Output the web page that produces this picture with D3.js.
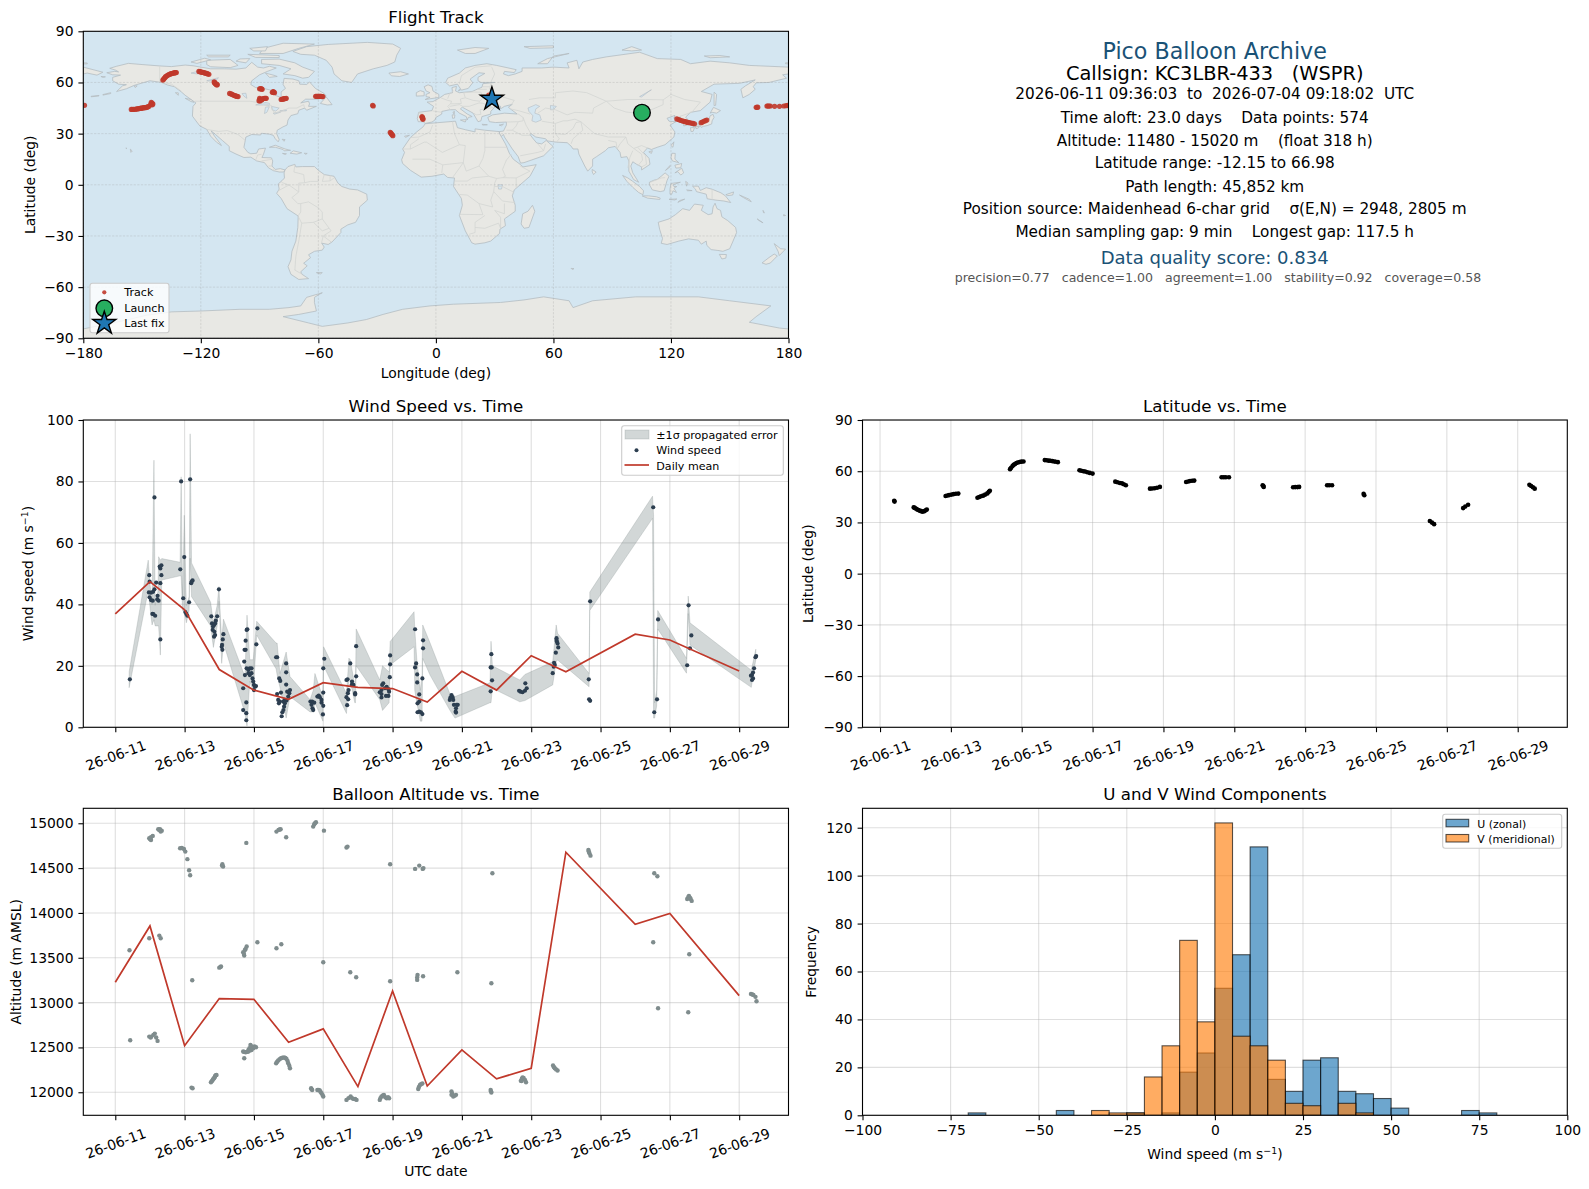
<!DOCTYPE html>
<html><head><meta charset="utf-8">
<script src="https://cdn.jsdelivr.net/npm/d3@7/dist/d3.min.js"></script>
<style>html,body{margin:0;padding:0;background:#fff}svg{display:block}text{font-family:"DejaVu Sans",sans-serif;fill:#000}</style>
</head><body><svg id="c" width="1589" height="1189" xmlns="http://www.w3.org/2000/svg"></svg>
<script>
// ---------- DATA ----------
const dateTicks=[0,2,4,6,8,10,12,14,16,18];
const dateLabels=["26-06-11","26-06-13","26-06-15","26-06-17","26-06-19","26-06-21","26-06-23","26-06-25","26-06-27","26-06-29"];
const lonTicks=[-180,-120,-60,0,60,120,180];
const lonLabels=["−180","−120","−60","0","60","120","180"];
const latTicks=[-90,-60,-30,0,30,60,90];
const latLabels=["−90","−60","−30","0","30","60","90"];
const windTicks=[0,20,40,60,80,100];
const altTicks=[12000,12500,13000,13500,14000,14500,15000];
const histXTicks=[-100,-75,-50,-25,0,25,50,75,100];
const histXLabels=["−100","−75","−50","−25","0","25","50","75","100"];
const histYTicks=[0,20,40,60,80,100,120];

const land=[
// North America
[[-168,65.7],[-164,66.5],[-162,66.2],[-163.5,67.2],[-166.5,68.3],[-163,69.5],[-157,71.2],[-150,70.5],[-141,69.7],[-135,69.3],[-128,70.2],[-124,69.8],[-115,68],[-108,68],[-102,67.8],[-97,68.5],[-94,71.8],[-91,69],[-88,68.5],[-85,69.5],[-81.5,68.5],[-86,66.5],[-90,64.5],[-94,61],[-94.5,58.8],[-92,57],[-88,56.5],[-82.5,55],[-82,52.5],[-79.5,51.3],[-79,52],[-79,54.5],[-76.8,56.5],[-78,58.8],[-77.5,62.4],[-73,62],[-70,61],[-69.5,59],[-66,58.8],[-64.5,60.3],[-61.5,56.5],[-57,53.5],[-56,52],[-60,50.2],[-66.5,50.2],[-69,48],[-65,49],[-64.5,47.5],[-65,46],[-61,46],[-66,43.7],[-67,45],[-70,43.7],[-70.5,41.7],[-74,40.6],[-75.5,38],[-76,35],[-78,34],[-81,32],[-81.3,30],[-80,26.5],[-80.5,25.2],[-82,27],[-83,29],[-85,29.7],[-89,30.2],[-89.5,29.2],[-94,29.5],[-97,28],[-97.5,25],[-98,22],[-96,19],[-94.5,18.2],[-91.5,18.5],[-90.5,21],[-87,21.5],[-88,18],[-88.8,16],[-84,15.8],[-83.3,14],[-83.7,11],[-82,9],[-79.5,9.5],[-77,8.7],[-77.7,7.5],[-80,7.5],[-83,8.3],[-85.5,10],[-87.5,13],[-91.5,14],[-94.5,16.2],[-98,16],[-102,18],[-105.5,20],[-105.5,22.5],[-109,26],[-112.5,29.5],[-114.8,31.7],[-113,28.5],[-110,24],[-109.5,23],[-112,25],[-115,28.5],[-117,32.5],[-120.5,34.5],[-122.5,37.5],[-124.3,40.3],[-124,46],[-122.5,48],[-125,50],[-128,52.5],[-130,54.5],[-133.5,57.5],[-137,58.5],[-140,60],[-146,61],[-149,60],[-152,59],[-154,58.3],[-158,56.3],[-163,54.7],[-160,58],[-158,58.7],[-162,59],[-165,61],[-165,63],[-161,64.3],[-165,64.5]],
// South America
[[-77,8.7],[-75.5,10.7],[-72,12],[-71.5,10.5],[-68,10.7],[-62,10.7],[-60,8.5],[-57,6],[-52,5],[-50,1],[-48,-1],[-44,-2.5],[-40,-3],[-35.3,-5.5],[-35,-9],[-39,-13],[-39,-18],[-41,-22],[-45,-23.5],[-48.5,-26],[-48.5,-28],[-53,-33.5],[-55,-35],[-58.3,-34.2],[-57,-36.5],[-58,-38.3],[-62,-39],[-65,-41],[-64,-42.7],[-67.5,-46],[-65.7,-47.5],[-69,-51],[-68.3,-52.5],[-65,-55],[-70,-55.5],[-74,-52.5],[-75.5,-48],[-74,-44],[-73.5,-39],[-71.5,-33],[-70.5,-25],[-70.3,-18.3],[-76,-14],[-79,-8],[-81.3,-5],[-80,-2.5],[-80.5,0.5],[-78.5,2.5],[-77.3,4],[-77.5,7]],
// Greenland
[[-73,78.2],[-66,81],[-55,82.3],[-35,83.5],[-22,82.5],[-18,80],[-20,76],[-21,72],[-25,70],[-32,68],[-40,65],[-43,60],[-48,61],[-52,65],[-53,69],[-56,73],[-62,76],[-69,76.5]],
// Eurasia
[[-9,37],[-9.5,38.8],[-8.8,42.5],[-2,43.5],[-1.2,46],[-4.5,48.5],[-1.5,48.8],[2,51],[4.5,53],[8.5,54],[8.2,57],[10.5,57.7],[10,55],[12,54],[18.5,54.7],[21,56],[23.5,57.2],[24,59.3],[30,60],[23,60],[21.5,61],[21.5,63],[25,65.3],[22,65.7],[17.5,62],[18.8,59.8],[16.5,56.5],[13,55.5],[11,59],[7,58],[5,60],[6,62.5],[12,65.5],[15,68.5],[20,70],[26,71],[31,70],[41,67.5],[40,65.8],[35,66.5],[34.5,65],[37,64],[40.5,65],[44,66.5],[44,68.5],[54,68.5],[60,69],[68,68.5],[67,71.5],[72,73],[73,68],[75,72],[80,73.5],[87,75],[104,77.7],[113,74],[125,73.5],[130,71],[140,72.5],[150,71.5],[160,70],[170,69.5],[180,69],[180,65],[177,64.5],[179,62.5],[170,60],[163.5,59.8],[162,57.5],[163,56],[160,53],[156.7,51],[155.7,56],[158,58],[163,61.5],[155,59.5],[142,59],[135.5,54.7],[141,53],[140,48.5],[135,43.5],[130,42.5],[127.5,39.7],[129.5,37],[129,35.2],[126.5,34.5],[126.5,37],[125,38],[125,39.7],[121.5,39],[122,40.7],[118,39],[119,37.3],[122.5,37],[119.5,35],[122,31],[121.5,28],[117,23.5],[113,22],[110,20.7],[108,21.6],[106,19],[108.8,15.5],[109.3,12],[105,8.7],[105,10.5],[102.5,12],[100.5,13.5],[99.5,11],[100.5,7],[103.5,1.5],[101,3],[98.5,8],[98.5,14],[97.5,16.5],[94.5,16],[94,19],[91.5,22.5],[88,21.7],[86.5,20],[82,16.5],[80,15],[80,11],[77.5,8],[76,11],[73,18],[72.5,21],[70,21],[69,22.7],[67,24.7],[61.5,25],[57,25.7],[56,27],[51,28],[48.5,30],[48,29.5],[50,26.5],[51.5,24.5],[54,24],[56.3,26],[59.8,22.5],[55,17],[45,13],[43.2,12.7],[42,16.5],[39,21],[35,28],[34.5,29.5],[33,28],[32.5,30],[32.3,31.2],[34.5,31.5],[36,35],[36,36.8],[30.5,36.5],[27.3,37],[26.5,39.5],[29,41],[35,42],[41.5,41.5],[38,44.5],[37,45.5],[39,47.2],[35,46],[33,44.5],[33,46],[30.7,46.5],[28,43],[28,41.5],[26,40.8],[23.5,40],[23,37.5],[21.5,37],[19.5,41],[19,42],[13.5,45.5],[12.5,44.5],[16,41.5],[18.5,40],[16.5,39.5],[16,38],[15.5,40],[12,42],[10,44],[7,44],[3,43],[3,41.5],[0,39.5],[-0.5,38],[-2,36.8],[-5.5,36],[-6.5,37]],
// Chukotka wrap
[[-180,69],[-175,67.5],[-170,66],[-173,64.3],[-178,65.5],[-180,65]],
// Africa
[[-5.5,35.8],[10,37.3],[11,33.5],[15,32.3],[20,31],[20,32.8],[25,32],[32.3,31.2],[32.5,30],[35.5,24],[37.5,18.5],[39.5,15],[43,12],[44.5,10.5],[51.2,11.8],[48,5],[40,-3],[39,-6.5],[40.5,-12],[40.5,-15.5],[35,-20],[35.5,-24],[32.7,-26],[32.5,-28.5],[28,-33],[25,-34],[20,-34.8],[18.3,-34],[15,-27],[12,-18],[13.5,-12],[13,-8],[9,-1],[9.5,4],[6,4.3],[4,6.3],[-2,5],[-7.5,4.5],[-13,8.5],[-17,12.5],[-17.5,14.7],[-16,19],[-17,21],[-13,27.7],[-9.8,31],[-6.5,34]],
// Australia and neighbours
[[113.5,-22],[114.2,-26],[115.7,-31.5],[115,-34.3],[118,-35],[124,-33],[129,-31.7],[134,-32.5],[135.5,-34.8],[138,-33],[138.3,-35.5],[140.5,-38],[144,-38.5],[146.5,-39],[150,-37.5],[151.5,-33.5],[153.5,-28],[153,-25],[149,-21],[146,-18.8],[145.3,-15],[143.5,-14],[142.5,-10.8],[141.5,-13],[141,-17],[139,-17.5],[135.5,-15],[136.5,-12],[132,-11.3],[129.5,-15],[126,-14],[122.3,-17.5],[119,-20]],
[[144.7,-40.8],[148.3,-40.9],[148,-43],[146,-43.5]],
[[172.7,-34.5],[176,-37.5],[178.5,-37.7],[175.3,-41.5],[174.7,-39]],
[[172.7,-40.6],[174.3,-41.7],[170.7,-45.9],[168.5,-46.6],[166.5,-45.8],[170,-42.7]],
[[131,-0.8],[134,-0.8],[135,-3.3],[138,-1.7],[141,-2.6],[145.5,-4.7],[147.8,-6.5],[150.5,-10.4],[147,-9.5],[143,-9],[138.5,-8.2],[138,-5.5],[133,-4],[132.5,-2.5]],
[[148,-5.8],[152,-4.2],[151.5,-6],[149,-6.3]],
[[155,-6],[157,-7.5],[161,-10],[160,-8.5]],
[[167,-15],[167.7,-16.5],[167.2,-16.3]],
[[164,-20],[167,-22.3],[165,-21]],
[[177.5,-17.5],[178.5,-18],[177.5,-18.2]],
// Canadian Arctic and North Atlantic
[[-80,73.7],[-72,71.5],[-68,69],[-62,66.5],[-65,63],[-68,62.5],[-72,64],[-78,65],[-74,68],[-80,70],[-89,71],[-89,73.5]],
[[-117,73],[-105,73.5],[-101,70],[-105,68.7],[-115,69.2],[-117,70.5]],
[[-125,72],[-118,74.2],[-115,73.3],[-122,71.2]],
[[-90,77],[-88,80],[-78,83],[-62,82.5],[-70,80],[-78,77]],
[[-96,76.5],[-80,75.8],[-80,74.6],[-92,74.7]],
[[-95,80],[-86,81],[-87,78.5],[-93,78.5]],
[[-117,76],[-105,76],[-106,75],[-116,75]],
[[-100,73.8],[-95,74],[-97,71.5],[-102,72.5]],
[[-87,65.5],[-82,64],[-81,63.5],[-85,63]],
[[-59,47.7],[-56,51.5],[-53,47],[-55.5,46.8]],
[[-128,50.7],[-125,50],[-123.5,48.4],[-125,48.8]],
[[-133,54],[-131.5,53.9],[-131.5,52.5]],
[[-154,58],[-152.5,58],[-153.5,57]],
[[-171,63.5],[-168.7,63.3],[-170,63]],
[[-170,52.9],[-166,54],[-166,53.5],[-170,52.6]],
[[-176,51.9],[-172,52.4],[-172,52.1],[-176,51.6]],
[[-156,20.9],[-155,19.8],[-155.7,19]],
[[-158.3,21.6],[-157.7,21.4],[-158,21.2]],
[[-85,22],[-82,23.2],[-77,21],[-74.2,20.2],[-77.5,19.9],[-78,20.7],[-82,22]],
[[-74.4,18.5],[-72.8,19.9],[-68.5,18.8],[-71,18]],
[[-78.3,18.4],[-76.3,18.2],[-77,17.8]],
[[-67.2,18.5],[-65.7,18.4],[-66.5,17.9]],
[[-78.5,26.7],[-77,26.5],[-77.5,25.5]],
[[-24,65.5],[-18,66.3],[-14,65],[-18.5,63.5],[-22.7,63.9]],
[[-61,-51.5],[-58,-51.5],[-59,-52.3]],
[[69,-49],[70.5,-49.2],[69.5,-49.6]],
// Arctic Eurasia
[[11,79],[20,80.5],[27,80],[20,77],[15,77]],
[[52,71],[57,74],[68,77],[60,75.5],[57,71]],
[[45,81],[60,81.5],[60,80.3],[48,80]],
[[95,79],[100,81],[105,79],[100,78.5]],
[[137,75.5],[145,75.8],[150,75],[140,74.5]],
[[178.5,71.5],[180,71.5],[180,70.9],[178.5,71]],
[[-180,71.5],[-178,71.4],[-178,70.9],[-180,70.9]],
// Europe islands
[[-5.5,50],[1.5,51.2],[1.5,53],[-1.5,55],[-2,57.7],[-4,58.6],[-6,57.5],[-5,55],[-3,54],[-5,53],[-5,51.7],[-3,51.3]],
[[-10,52],[-6,52.2],[-6,54.5],[-8,55.2],[-10,54]],
[[12.5,38],[15.5,38.2],[15,36.8]],
[[8.3,41],[9.7,41],[9.5,39.1],[8.5,39]],
[[8.7,42.6],[9.5,43],[9.3,41.4]],
[[23.5,35.5],[26.3,35.2],[24,35]],
[[32.3,35],[34.5,35.6],[33.5,34.6]],
[[12,56],[12.6,55.7],[11.5,55]],
[[-16,28.5],[-13.5,29],[-15.5,27.8]],
// East and South-East Asia islands
[[131,34],[133,35.5],[136,35.8],[137,37.3],[139.5,38.5],[140,40.5],[141.5,41.3],[142,39.5],[141,37.5],[140.8,35.7],[138.5,34.7],[136.5,34.3],[135.5,33.6],[135,34.6]],
[[130,33.5],[132,33.5],[131.3,31.3],[130.2,31.3]],
[[132.5,33.9],[134.5,34.2],[134,33.3],[132.8,32.9]],
[[140,42],[141.7,45.4],[145.3,43.5],[143.3,42],[141,42.5]],
[[142,54.3],[143.3,53],[143,49.5],[142.8,46.6],[142,46.5],[142,50]],
[[120,23],[121.5,25.2],[121,22]],
[[108.7,19.3],[110.5,20],[110,18.4]],
[[79.8,9],[81.8,7.5],[80.5,6],[79.8,7.5]],
[[120.5,18.5],[122.2,18.4],[122,15],[124,13],[120.7,14],[120,16]],
[[122,7],[125.5,9.7],[126.5,7],[125,5.7],[123.5,7.7]],
[[122,11.5],[125.5,12.5],[125,10],[122.5,9.8]],
[[117.2,8.4],[119.5,11.3],[119.5,10.5]],
[[109,1.5],[111.3,2.7],[113,3.2],[115,5],[117,7],[119,5],[118,2.5],[117.5,0.5],[116.5,-3.5],[114.5,-4],[110.5,-3],[109,0]],
[[95.3,5.5],[98,4],[100.5,2],[104,-1],[106,-3.5],[105.7,-5.8],[103.5,-4.5],[100.5,-1.5],[97.5,2]],
[[105.3,-6.5],[108.5,-6.5],[112.5,-7],[114.5,-7.8],[114.3,-8.6],[108,-7.8]],
[[119.5,-5.5],[119.5,-2.5],[120,0.8],[124.8,1.5],[121,0],[121.5,-1],[123,-1],[121.5,-2],[122.8,-4.5],[121,-3.5],[120.4,-5.5]],
[[123.5,-10.3],[127,-8.4],[124.5,-9.2]],
[[119,-8.5],[123,-8.3],[122,-8.9]],
[[127.5,2],[128.7,1],[128,-0.8]],
[[128,-3],[130.8,-3.4],[128.5,-3.5]],
// Madagascar and Antarctica
[[49.3,-12],[50.5,-15.5],[47.5,-25],[45,-25.5],[43.5,-23],[44.3,-17],[47,-15.5]],
[[-180,-90],[-180,-84.5],[-165,-81],[-155,-78.5],[-148,-76.5],[-135,-74.5],[-120,-74],[-100,-73],[-85,-73],[-75,-72],[-69,-71],[-66,-66],[-58,-63.3],[-60,-64.5],[-62,-66],[-62,-69],[-61,-74],[-70,-76],[-78,-77.3],[-65,-81],[-58,-83],[-45,-81],[-35.5,-79],[-27,-76],[-17,-73],[-3,-71],[9,-70],[33,-69],[45,-67.5],[55,-65.7],[68,-68],[70,-72],[80,-68],[102,-65.7],[134,-65.7],[150,-68],[171,-71],[163.5,-77.3],[160,-80.6],[175.4,-84],[180,-84.5],[180,-90]]
];
const lakes=[
[[47,45],[51,47],[53,46],[51,44.5],[50.5,42],[53,41],[53.8,38],[51,36.7],[49,37.5],[49.5,40.5],[47.5,43]],
[[58.5,46.5],[61.5,46],[60,44],[58.5,44]],
[[-92,46.8],[-88,48.5],[-85,47.8],[-85,46.6],[-88,46.8]],
[[-87.5,41.8],[-87,45.5],[-85,45.8],[-86.3,42.5]],
[[-84,46],[-80,45],[-81.7,43.2],[-83.5,43.8]],
[[-83,42],[-79,42.9],[-79.5,42.5],[-82.5,41.4]],
[[-79.7,43.3],[-76.3,44],[-76.3,43.4],[-79,43.2]],
[[-125,65.5],[-120,67],[-118,66],[-122,65]],
[[-117,61],[-111,62.8],[-112,61.5],[-116,60.8]],
[[-99,53.5],[-97,53.7],[-96.5,50.7],[-98,52]],
[[104,51.7],[110,55.7],[109,55],[105,51.5]],
[[31.7,0],[34,0],[33.5,-2.5],[32,-2.5]]
];
const borders=[
[[-123,49],[-95,49],[-89,48],[-84,46.5],[-82.5,42],[-79,43],[-75,45],[-71,45],[-67.5,47],[-67,45]],
[[-141,69.7],[-141,60.3],[-135,59],[-130,55]],
[[-117,32.5],[-111,31.3],[-106.5,31.8],[-101,29.5],[-97.3,26]],
[[-92,14.5],[-91,17.5],[-89,17.9]],[[-89,14],[-83.3,15]],[[-85.5,11],[-83.7,11]],[[-83,8.5],[-82.5,9.5]],
[[-72,11.8],[-72.5,7.5],[-67.5,6],[-67,1.2]],
[[-78.8,1.4],[-75,-0.1],[-70,-4.2],[-70,1],[-67,1.2]],
[[-60,5],[-60,2],[-64,2],[-67,1.2]],
[[-70,-4.2],[-73.5,-7.5],[-70.5,-11],[-69,-11],[-65,-10],[-60,-13.5],[-58,-16],[-58,-20],[-54.5,-25.5],[-53.5,-27],[-57.5,-30],[-53.5,-33.5]],
[[-80.3,-3.4],[-75,-0.1]],[[-70.4,-18.3],[-69,-16],[-69,-11]],
[[-70.4,-18.3],[-68.5,-22.5],[-70,-33],[-71.5,-42],[-72,-50],[-68.5,-52.3]],
[[-68.5,-22.5],[-62.5,-22],[-58,-20]],[[-62.5,-22],[-58,-27],[-54.5,-25.5]],[[-58.4,-34],[-57.5,-30]],
[[-57,6],[-58,2],[-54,2.3],[-54,5.7]],[[-52,4],[-54,2.3]],
[[-1.7,35],[-3,31],[-8.7,28],[-13,27.7]],[[8.5,37],[9.5,30],[12,23.5]],[[25,32],[25,20]],[[25,22],[36.9,22]],
[[25,20],[24,15.5],[22,11],[27,5],[31,3.7],[34,4.2],[35.5,5],[34,9],[36,14.5],[38.5,18]],
[[-4.8,25],[3.3,19],[12,23.5],[15,23],[14,13],[3.5,11.7],[-3,15],[-12,15]],
[[-17,21],[-13,21],[-13,23.5],[-8.7,27]],[[-13,21],[-6,25],[-4.8,25]],[[3,7],[3.5,11.7]],[[14,13],[9,5],[8.7,4.5]],
[[14,13],[15.5,8],[22,11]],[[9.8,2.2],[16,2.2],[18.5,4],[27,5]],
[[12,-5.7],[16,-6],[22,-11],[29,-13],[28,-9],[29.5,-4],[30,1],[31,3.7]],
[[41,4],[48,8],[43,11]],[[34,4.2],[41,4],[41,-1.7]],[[34,-1],[40,-4.5]],[[30,-1],[34,-1]],
[[29.5,-4],[34,-9.5],[40.5,-10.5]],[[12,-17.3],[24,-17.5],[22,-11]],[[17,-29],[20,-28],[20,-22],[25,-18]],
[[20,-25],[25,-25.5],[32,-22.5],[33,-25.5]],[[33,-25.5],[33,-19],[30,-15],[35,-17],[35,-11]],
[[-9,42],[-7,42],[-7,37.2]],
[[-1.7,43.3],[3,42.5]],[[2.5,51],[6,49.5],[8,49],[7.5,47.5],[6,46],[7.5,44]],
[[9,55],[7,53.5],[6,50.5]],[[14.2,54],[15,51],[12.5,50.3],[13,47.7],[9.6,47.5],[7.5,47.5]],[[7,46],[12,47],[13.7,46]],
[[14.2,54],[19,54.4],[23,54.3],[24,51],[22.5,49],[19,49.5],[15,51]],
[[13.7,46],[17,46],[22,48],[24,47.8],[29,45.3],[22.5,44],[23,41.3],[20.5,41],[19.5,42]],
[[28,59.5],[27.5,56],[31,52.5],[40,49.5],[38.5,47]],[[24,51],[31,52.5]],[[24,57.5],[27.5,57.5]],[[21,56],[26,56]],
[[28,60],[30,65],[28.5,69]],[[12,59],[13,64],[20,69],[28.5,69.8]],
[[47.5,50],[53,51],[61,51],[61,54],[70,55],[77,54],[87,49]],
[[87,49],[98,50],[107,50],[116,49.8],[120,53],[127,50],[135,48.5],[131,43],[130.7,42.5]],
[[87,49],[91,45],[97,42.7],[105,41.7],[112,45],[116,47],[116,49.8]],
[[52,42],[56,45],[61,44],[67,41],[71,42.5],[80,42],[80.5,45],[87,49]],
[[54,37.3],[61,36],[65,37.5],[67,37.5],[71,38.5],[74,37]],[[61,36],[61,30],[63,27],[61.5,25]],
[[61,30],[66,29.5],[70,33],[71.5,36.5],[74,37]],[[74,37],[75,32],[70,27],[69,24]],
[[74,37],[79,32],[81,30],[88,28],[97,28]],[[97,28],[98,24],[101,21.3],[105,23],[108,21.6]],
[[92.5,21],[94,24],[97,28]],[[88,26],[92,25],[92.5,21]],[[98,10],[99,16],[100.5,20]],
[[101,21.3],[105,18],[105.5,14.5],[103,11]],[[103,22],[107,17],[107.5,12],[105,10.5]],
[[44.5,39.5],[46,35],[48.5,30]],[[36,36.8],[42,37],[44.5,37.5],[44.5,39.5],[42,41.5]],
[[42,37],[41,34.5],[39,32],[36,32]],[[39,32],[44,29],[48,29]],[[43,17],[52,19],[55,20],[52,24]],[[55,20],[56,24]],
[[48,41.5],[42,43.5],[38,44.5]],[[124.3,40],[128,41.5],[130.7,42.5]],[[126,38],[128.5,38.5]],
[[141,-2.6],[141,-9]],[[109.5,1.5],[115,4],[117,4.2]]
];

const trackLon=[-179.4,179.6,-155.5,-154.9,-154.3,-153.6,-153,-152.5,-152,-151.5,-151,-150.5,-150,-149.5,-149,-148.5,-148,-147.5,-147,-146.5,-145.3,-144.5,-145,-145.6,-144.8,-139.4,-139,-138.7,-138.3,-138,-137.5,-137,-136.5,-136,-135.5,-135,-134.5,-134,-133.6,-133.3,-132.9,-132.5,-121,-120.5,-120,-119.5,-119,-118.5,-118,-117.5,-117,-116.5,-115.9,-113,-112.8,-112.5,-112.2,-112,-111.8,-113.2,-111.6,-105.3,-104.6,-104,-103.4,-102.8,-102.4,-102,-101.5,-101,-90,-89.5,-89,-88.7,-83.2,-83,-82.8,-82.4,-83.5,-90,-89.6,-89.2,-88.8,-88.4,-88,-87.5,-87,-86.6,-90.3,-89.8,-79,-78.5,-78,-77.6,-77.3,-76.8,-76.4,-61.4,-60.9,-60.4,-59.9,-59.4,-59,-58.5,-58.1,-57.7,-32,-32.3,-23.3,-23,-22.7,-22.3,-22,-7.1,-7,-6.8,-6.7,-6.6,27,123,123.8,124.5,125.2,126,126.6,127.3,128,128.6,129.4,130.3,131.2,132,135.4,136,136.8,137.6,138.3,163.5,163.9,164.3,169,169.5,170,170.7,172.9,175.4,177.6,178.8];
const trackLat=[46.6,46.6,44.2,44.2,44.2,44.3,44.4,44.5,44.6,44.7,44.8,44.9,45,45.1,45.2,45.3,45.3,45.5,45.7,46,48.3,47.4,47.9,47.1,46.9,61.4,61.9,62.4,62.9,63.4,63.8,64.2,64.5,64.8,65,65.2,65.4,65.5,65.6,65.7,65.8,65.8,66.5,66.3,66.2,66,65.9,65.8,65.6,65.4,65.3,65,64.8,60,59.6,59.3,58.9,59,58.5,60.3,58.8,53.6,53.3,53,52.6,52.3,52.2,52,51.8,51.7,56.3,56.4,56.2,56,54.4,54.6,54.2,54,54.2,50.7,50.2,49.7,50,50.4,50.6,50.7,50.7,50.7,49.3,49.2,50,50.2,50.3,50.4,50.5,50.6,50.7,51.9,51.9,51.9,51.9,51.9,51.8,51.8,51.7,51.7,46.2,46.6,30.8,30.3,29.8,29.3,28.8,40,39.6,39.2,38.8,38.4,52.6,38.6,38.3,38,37.7,37.4,37.2,37,36.8,36.6,36.4,36.2,36,35.8,36.4,36.8,37.2,37.6,38,45.4,45.4,45.5,46.2,46.2,46.2,46.2,46,46,46.2,46.4];
const launchPoint=[105.2,42.3];
const lastFixPoint=[28.6,50.3];

const windPoints=[[.42,15.6],[.98,49.5],[.99,47.4],[.97,43.9],[1.03,43.8],[1.09,44.1],[1.13,44.9],[1.18,47.1],[1.30,46.9],[.99,42.3],[1.03,41.4],[1.08,41.2],[1.22,42.8],[1.21,41.6],[1.25,41.2],[1.07,36.9],[1.10,36.8],[1.15,36.3],[1.30,28.6],[1.13,74.8],[1.33,49.5],[1.28,52.3],[1.33,52.7],[1.30,51.7],[1.875,51.4],[1.90,80],[1.96,42],[1.99,55.4],[2.02,37.5],[2.05,36.9],[2.08,36.3],[2.13,40.7],[2.16,80.7],[2.19,46.9],[2.21,47.5],[2.23,47.8],[2.77,36.1],[2.94,36.1],[2.99,44.9],[2.79,33.8],[2.82,32.8],[2.85,33.3],[2.88,33.8],[2.90,34.7],[2.81,31.7],[2.86,31.1],[2.88,30],[2.85,29.5],[3.12,30.3],[3.10,28.6],[3.08,26.8],[3.07,26.2],[3.09,25.2],[3.79,31.7],[3.81,31.9],[3.76,28.2],[3.73,25.2],[3.76,25.2],[3.72,21.4],[3.69,12.7],[3.69,5.6],[3.78,8.1],[3.78,4.6],[3.78,2.3],[3.79,19.2],[3.84,18.7],[3.88,19.2],[3.93,19.2],[3.74,17],[3.84,17.6],[3.88,17],[3.93,17.6],[3.96,15.9],[3.98,14.9],[4,13.8],[4.03,13.2],[4.06,13.4],[4,12.1],[4.10,32.2],[4.07,27],[4.64,22.8],[4.67,22.8],[4.73,15.9],[4.76,15.1],[4.93,20.8],[4.93,17.9],[4.93,13.9],[4.67,10.8],[4.78,11.3],[4.70,8.9],[4.75,8.4],[4.85,8.4],[4.89,8.9],[4.94,8.7],[4.99,10],[5.02,11.1],[5.04,12.1],[4.96,11.6],[4.72,7.8],[4.87,6.7],[4.85,5.6],[4.82,4.9],[4.80,3.6],[4.89,7.8],[5.63,8.4],[5.68,8.4],[5.74,8],[5.66,7.3],[5.69,6.2],[5.71,5.6],[5.83,10],[5.87,10.3],[5.90,9.8],[5.95,8.9],[5.95,8],[6,7],[6,11.3],[5.99,4.2],[6.03,22.3],[6,19.2],[6.67,15.4],[6.70,15.6],[6.78,20.8],[6.83,14.9],[6.87,13.8],[6.82,13.8],[6.73,12.1],[6.71,11.1],[6.67,9.8],[6.72,9.1],[6.69,7.2],[6.92,11.1],[6.92,10.7],[6.95,16.6],[6.95,26.4],[7.68,12.1],[7.68,10.8],[7.68,9.7],[7.63,11.4],[7.73,14.3],[7.70,13.8],[7.78,12.7],[7.83,13.2],[7.88,12.4],[7.90,11.6],[7.88,10.2],[7.81,10.2],[7.92,16.3],[7.93,20.5],[7.93,23.4],[8.65,31.9],[8.68,20.8],[8.65,19.5],[8.71,17.2],[8.71,14.6],[8.77,10.7],[8.86,15.9],[8.88,28.3],[8.88,25.7],[8.77,8.4],[8.72,7.8],[8.77,5.1],[8.82,4.9],[8.86,4.3],[8.72,4.9],[9.65,8.9],[9.70,10.5],[9.73,9.8],[9.75,8.9],[9.67,9.7],[9.77,7.3],[9.85,7.3],[9.88,7.3],[9.83,6.2],[9.82,5.1],[9.83,4.8],[10.83,19.5],[10.86,19.5],[10.85,23.8],[10.87,15.3],[10.83,11.7],[11.65,11.9],[11.69,11.6],[11.75,11.4],[11.82,11.9],[11.87,12.7],[11.83,14.3],[12.62,17.6],[12.65,19.7],[12.68,20.3],[12.66,21],[12.71,24.3],[12.78,26],[12.74,27.9],[12.73,29],[12.73,28.4],[12.76,27.3],[13.70,41],[13.66,15.6],[13.67,9.1],[13.70,8.6],[15.52,71.6],[15.55,4.9],[15.63,9.1],[15.66,35.1],[16.50,20.2],[16.54,39.7],[16.58,25.7],[16.62,29.9],[18.34,16.8],[18.37,17],[18.37,15.4],[18.40,15.9],[18.40,17.8],[18.43,19.2],[18.47,22.8],[18.49,23.2]];
const bandDays=[.40,.95,1.0,1.06,1.115,1.15,1.23,1.25,1.30,1.34,1.87,1.90,1.94,1.99,2.05,2.13,2.16,2.2,2.75,2.83,2.94,2.99,3.07,3.12,3.74,3.80,3.88,3.98,4.08,4.64,4.67,4.75,4.93,5.04,5.62,5.71,5.76,5.95,5.99,6.01,6.67,6.74,6.78,6.91,6.93,6.95,7.63,7.71,7.9,7.93,8.62,8.64,8.7,8.8,8.85,8.87,9.08,9.65,9.8,10.81,10.84,10.88,11.67,11.82,12.62,12.72,12.76,13.67,13.69,15.5,15.53,15.56,15.62,15.65,16.48,16.53,16.58,18.35,18.48];
const bandHigh=[18.1,54.4,46.9,40,86.9,39.7,44.2,55.5,54.4,54.9,53.7,81.5,42.5,69,39.6,42.5,95.5,53.5,40.7,34,39.7,45.8,27.9,35.2,16.5,36.5,22,22,34.5,27.4,27.4,17.5,24.5,16.5,9,12,17.5,11,12,26.2,11,22.5,22,13.5,13.5,32,15.4,20,18,27.9,37.6,32,22,12,17,33.3,27.5,11,10,14.5,28,20,15.4,17.2,21.3,33.3,30.6,17.5,44,75.2,69,8,12,38,22.4,42.7,34,18.6,25.4];
const bandLow=[12.9,44.5,39.3,33.3,35,33,33,33,23.5,47.9,49.3,49.3,38,38,34,38,55,42.5,33,26,33,41,20.8,27.5,4.6,.4,15,11.8,30,19,17,13,3,10,5,5,8,3,2,20,4.5,16,15,8,8,20,9,5.5,8,20.3,26.2,12,8,2,2,22.4,17,5.6,3,8,8,12.7,8.3,8.7,13.8,21.3,21.9,13.2,38,68,3,3,7,32,17.6,37,26.8,13,22];
const dailyDays=[0,1,2,3,4,5,6,7,8,9,10,11,12,13,15,16,18];
const dailyWind=[36.9,47.4,38.2,18.8,12.1,9.1,14.5,13,12.6,8.2,18.2,12.1,23.3,18.1,30.3,28.4,18.3];
const dailyAlt=[13227,13855,12520,13045,13037,12558,12707,12063,13130,12070,12472,12149,12268,14677,13874,13993,13078];

const latPoints=[[.40,42.7],[.41,42.2],[.95,38.8],[.98,38.5],[1.02,38],[1.05,37.6],[1.08,37.3],[1.12,36.9],[1.16,36.6],[1.2,36.3],[1.25,36.6],[1.29,37.1],[1.32,37.6],[1.85,45.5],[1.9,45.8],[1.95,46],[2.02,46.3],[2.08,46.6],[2.14,46.8],[2.21,46.9],[2.75,44.5],[2.8,44.9],[2.85,45.3],[2.91,45.7],[2.97,46.3],[3.03,47],[3.07,47.9],[3.1,48.6],[3.67,61.2],[3.7,62],[3.74,63],[3.77,63.7],[3.81,64.2],[3.85,64.8],[3.89,65.1],[3.94,65.4],[3.99,65.6],[4.05,65.7],[4.65,66.5],[4.7,66.4],[4.76,66.2],[4.81,66.1],[4.87,65.9],[4.94,65.6],[5.02,65.3],[5.63,60.6],[5.68,60.3],[5.74,60],[5.79,59.8],[5.85,59.4],[5.92,59],[6,58.6],[6.64,53.9],[6.7,53.5],[6.77,53.1],[6.83,52.9],[6.88,52.4],[6.94,51.8],[7.62,49.8],[7.68,49.9],[7.75,50],[7.82,50.3],[7.9,50.8],[8.64,53.7],[8.7,54],[8.75,54.3],[8.81,54.4],[8.87,54.5],[9.64,56.5],[9.7,56.5],[9.76,56.5],[9.85,56.5],[10.8,51.8],[10.82,51.3],[10.83,50.8],[11.66,50.6],[11.72,50.7],[11.78,50.7],[11.83,50.8],[12.62,51.8],[12.68,51.8],[12.76,51.8],[13.65,46.7],[13.67,45.9],[15.52,30.8],[15.58,29.9],[15.64,29],[16.46,38.4],[16.52,39.3],[16.6,40.4],[18.33,52],[18.38,51.3],[18.43,50.6],[18.48,49.8]];

const altPoints=[[.41,13584],[.43,12580],[.98,14833],[1.03,14844],[1.08,14859],[1.03,14814],[1.0,14825],[1.24,14933],[1.29,14933],[1.34,14918],[1.31,14907],[1.27,14925],[.98,13718],[1.27,13747],[1.31,13718],[.98,12621],[1.04,12621],[1.02,12610],[1.1,12640],[1.14,12654],[1.18,12610],[1.22,12573],[1.87,14721],[1.92,14725],[1.98,14714],[2.02,14684],[2.08,14600],[2.13,14476],[2.16,14420],[2.22,13249],[2.2,12052],[2.23,12045],[2.76,12112],[2.79,12125],[2.81,12138],[2.83,12150],[2.85,12156],[2.87,12170],[2.88,12182],[2.9,12190],[2.92,12193],[3.09,14543],[3.11,14517],[3.08,14528],[3,13390],[3.05,13402],[3.03,13396],[3.78,14781],[3.69,12454],[3.72,12450],[3.76,12446],[3.8,12450],[3.84,12454],[3.87,12490],[3.9,12528],[3.94,12510],[3.98,12491],[4.02,12510],[4.06,12502],[3.93,12472],[3.84,12472],[3.88,12465],[3.72,12380],[3.72,13524],[3.74,13587],[3.79,13625],[3.76,13599],[3.69,13561],[3.71,13545],[4.1,13673],[4.64,12324],[4.67,12340],[4.7,12354],[4.74,12368],[4.78,12380],[4.82,12385],[4.87,12387],[4.91,12382],[4.94,12372],[4.97,12350],[4.99,12324],[5.02,12295],[5.04,12268],[4.65,13606],[4.79,13651],[4.65,14907],[4.71,14926],[4.74,14930],[4.77,14933],[4.93,14844],[5.71,14963],[5.74,14989],[5.79,15011],[5.76,15000],[6.02,14918],[6,13450],[5.65,12045],[5.66,12035],[5.68,12026],[5.83,12026],[5.87,12025],[5.9,12019],[5.92,12005],[5.95,11989],[5.98,11970],[6,11952],[6.67,14729],[6.7,14740],[6.78,13339],[6.95,13283],[6.67,11915],[6.73,11935],[6.79,11952],[6.83,11935],[6.87,11926],[6.92,11925],[6.96,11915],[7.93,14543],[7.93,13238],[7.63,11915],[7.65,11935],[7.68,11952],[7.72,11965],[7.75,11971],[7.79,11945],[7.83,11933],[7.9,11933],[7.87,11945],[8.65,14491],[8.77,14528],[8.87,14491],[8.89,14500],[8.72,13309],[8.71,13253],[8.71,13280],[8.88,13294],[8.74,12037],[8.76,12060],[8.79,12082],[8.82,12090],[8.86,12097],[9.87,13338],[9.7,12008],[9.72,11985],[9.75,11952],[9.79,11960],[9.83,11971],[9.7,11971],[10.88,14442],[10.85,13216],[10.83,12026],[10.85,11996],[10.84,12010],[11.7,12127],[11.73,12150],[11.75,12164],[11.78,12160],[11.82,12138],[11.85,12112],[11.72,12125],[12.63,12298],[12.66,12280],[12.68,12268],[12.72,12255],[12.76,12242],[13.65,14703],[13.68,14665],[13.66,14685],[13.71,14639],[15.55,14442],[15.64,14409],[15.52,13673],[15.66,12937],[16.53,12892],[16.56,13539],[16.5,14156],[16.53,14175],[16.55,14190],[16.58,14170],[16.6,14156],[16.63,14134],[18.34,13097],[18.38,13090],[18.41,13086],[18.47,13064],[18.5,13015]];

const binEdges=[-100,-95,-90,-85,-80,-75,-70,-65,-60,-55,-50,-45,-40,-35,-30,-25,-20,-15,-10,-5,0,5,10,15,20,25,30,35,40,45,50,55,60,65,70,75,80,85,90,95];
const uCounts=[0,0,0,0,0,0,1,0,0,0,0,2,0,0,0,1,0,1,18,26,53,67,112,15,10,23,24,10,9,7,3,0,0,0,2,1,0,0,0,0];
const vCounts=[0,0,0,0,0,0,0,0,0,0,0,0,0,2,1,1,16,29,73,39,122,33,29,23,5,4,0,5,1,0,0,0,0,0,0,0,0,0,0,0];

const infoLines=[
 ["Pico Balloon Archive",50.7,22.2,"#1a5276",1214.7],
 ["Callsign: KC3LBR-433   (WSPR)",73,19.4,"#000",1214.7],
 ["2026-06-11 09:36:03  to  2026-07-04 09:18:02  UTC",94.2,15.28,"#000",1214.7],
 ["Time aloft: 23.0 days    Data points: 574",117.6,15.28,"#000",1214.7],
 ["Altitude: 11480 - 15020 m    (float 318 h)",140.9,15.28,"#000",1214.7],
 ["Latitude range: -12.15 to 66.98",163.2,15.28,"#000",1214.7],
 ["Path length: 45,852 km",186.5,15.28,"#000",1214.7],
 ["Position source: Maidenhead 6-char grid    σ(E,N) = 2948, 2805 m",208.8,15.28,"#000",1214.7],
 ["Median sampling gap: 9 min    Longest gap: 117.5 h",232,15.28,"#000",1214.7],
 ["Data quality score: 0.834",257.4,18.05,"#1a5276",1214.7],
 ["precision=0.77   cadence=1.00   agreement=1.00   stability=0.92   coverage=0.58",277.7,12.55,"#555",1218]
];

// ---------- LAYOUT ----------
const L={x0:83.3,x1:788.5},R={x0:862.5,x1:1567.3};
const R1={y0:31.3,y1:338.3},R2={y0:420,y1:727.3},R3={y0:808.3,y1:1115.3};
const svg=d3.select("#c");
const RED="#c0392b",NAVY="#2c3e50",GREY="#7f8c8d";
let clipN=0;
function panel(col,row,xs,ys,o){
  const g=svg.append("g");
  const id="clip"+(clipN++);
  g.append("clipPath").attr("id",id).append("rect").attr("x",col.x0).attr("y",row.y0).attr("width",col.x1-col.x0).attr("height",row.y1-row.y0);
  const bg=g.append("g").attr("clip-path",`url(#${id})`);
  if(o.back)o.back(bg);
  const grid=g.append("g").attr("clip-path",`url(#${id})`);
  grid.selectAll("line.gx").data(o.xTicks).join("line").attr("x1",d=>xs(d)).attr("x2",d=>xs(d)).attr("y1",row.y0).attr("y2",row.y1);
  grid.selectAll("line.gy").data(o.yTicks).join("line").attr("x1",col.x0).attr("x2",col.x1).attr("y1",d=>ys(d)).attr("y2",d=>ys(d));
  if(o.mapGrid)grid.selectAll("line").attr("stroke","#9a9a9a").attr("stroke-opacity",.38).attr("stroke-width",.7).attr("stroke-dasharray","2.2,1.4");
  else grid.selectAll("line").attr("stroke","#b0b0b0").attr("stroke-opacity",.4).attr("stroke-width",1.1);
  const marks=g.append("g").attr("clip-path",`url(#${id})`);
  o.draw(marks);
  g.append("rect").attr("x",col.x0).attr("y",row.y0).attr("width",col.x1-col.x0).attr("height",row.y1-row.y0).attr("fill","none").attr("stroke","#000").attr("stroke-width",1.1);
  const ax=g.append("g").attr("transform",`translate(0,${row.y1})`).call(d3.axisBottom(xs).tickValues(o.xTicks).tickSize(4.9).tickPadding(4.9).tickFormat((d,i)=>o.xLabels?o.xLabels[i]:d));
  const ay=g.append("g").attr("transform",`translate(${col.x0},0)`).call(d3.axisLeft(ys).tickValues(o.yTicks).tickSize(4.9).tickPadding(4.9).tickFormat((d,i)=>o.yLabels?o.yLabels[i]:d));
  [ax,ay].forEach(a=>{a.select(".domain").remove();a.selectAll("line").attr("stroke","#000").attr("stroke-width",1.1);a.selectAll("text").style("font-family",'"DejaVu Sans"').style("font-size","13.89px").attr("fill","#000");});
  if(o.rotate)ax.selectAll("text").attr("dy",null).attr("y",null).attr("dominant-baseline","central").attr("text-anchor","middle").attr("transform","translate(0,28) rotate(-20)");
  g.append("text").attr("x",(col.x0+col.x1)/2).attr("y",row.y0-7.9).attr("text-anchor","middle").style("font-size","16.67px").text(o.title);
  if(o.yLabel){const t=g.append("text").attr("transform",`translate(${o.yLabelX},${(row.y0+row.y1)/2}) rotate(-90)`).attr("text-anchor","middle").style("font-size","13.89px");unit(t,o.yLabel);}
  if(o.xLabel){const t=g.append("text").attr("x",(col.x0+col.x1)/2).attr("y",o.xLabelY).attr("text-anchor","middle").style("font-size","13.89px");unit(t,o.xLabel);}
  return g;
}
function unit(t,s){
  const m=s.match(/^(.*m s)\^-1(\).*)$/);
  if(!m){t.text(s);return;}
  t.append("tspan").text(m[1]);
  t.append("tspan").attr("dy",-5).style("font-size","9.4px").text("−1");
  t.append("tspan").attr("dy",5).text(m[2]);
}
function legendBox(g,x,y,w,h){
  g.append("rect").attr("x",x).attr("y",y).attr("width",w).attr("height",h).attr("rx",2.5).attr("fill","#fff").attr("fill-opacity",.8).attr("stroke","#ccc").attr("stroke-width",1.1);
}
function legendText(g,x,y,s,fs){g.append("text").attr("x",x).attr("y",y).attr("dominant-baseline","central").style("font-size",fs+"px").attr("fill","#000").text(s);}
const star=d3.symbol().type(d3.symbolStar);

// ---------- MAP ----------
const lonX=d3.scaleLinear().domain([-180,180]).range([L.x0,L.x1]);
const latY=d3.scaleLinear().domain([-90,90]).range([R1.y1,R1.y0]);
const mapLine=d3.line().x(d=>lonX(d[0])).y(d=>latY(d[1]));
const p1=panel(L,R1,lonX,latY,{
  title:"Flight Track",xTicks:lonTicks,xLabels:lonLabels,yTicks:latTicks,yLabels:latLabels,mapGrid:true,
  yLabel:"Latitude (deg)",yLabelX:34.5,xLabel:"Longitude (deg)",xLabelY:378,
  back(g){
    g.append("rect").attr("x",L.x0).attr("y",R1.y0).attr("width",L.x1-L.x0).attr("height",R1.y1-R1.y0).attr("fill","#d4e6f1");
    g.selectAll("path.land").data(land).join("path").attr("d",d=>mapLine(d)+"Z").attr("fill","#e8e8e4").attr("stroke","#b4bcc2").attr("stroke-width",.8).attr("stroke-linejoin","round");
    g.selectAll("path.lake").data(lakes).join("path").attr("d",d=>mapLine(d)+"Z").attr("fill","#d4e6f1").attr("stroke","#b4bcc2").attr("stroke-width",.6);
    g.append("g").selectAll("path").data(borders).join("path").attr("d",d=>mapLine(d)).attr("fill","none").attr("stroke","#d3d5d3").attr("stroke-width",.8);
  },
  draw(g){
    g.selectAll("circle.t").data(d3.zip(trackLon,trackLat)).join("circle").attr("cx",d=>lonX(d[0])).attr("cy",d=>latY(d[1])).attr("r",2.6).attr("fill",RED).attr("fill-opacity",.9);
    g.append("circle").attr("cx",lonX(launchPoint[0])).attr("cy",latY(launchPoint[1])).attr("r",8.3).attr("fill","#27ae60").attr("stroke","#000").attr("stroke-width",1.4);
    g.append("path").attr("transform",`translate(${lonX(lastFixPoint[0])},${latY(lastFixPoint[1])})`).attr("d",star.size(165)()).attr("fill","#1f77b4").attr("stroke","#000").attr("stroke-width",1.4);
  }
});
legendBox(p1,90,283.3,79,49.4);
p1.append("circle").attr("cx",104.3).attr("cy",292.3).attr("r",2.1).attr("fill",RED).attr("fill-opacity",.9);
p1.append("circle").attr("cx",104.3).attr("cy",308.3).attr("r",8.3).attr("fill","#27ae60").attr("stroke","#000").attr("stroke-width",1.4);
p1.append("path").attr("transform","translate(104.3,323.3)").attr("d",star.size(165)()).attr("fill","#1f77b4").attr("stroke","#000").attr("stroke-width",1.4);
legendText(p1,124.3,292.5,"Track",11.1);legendText(p1,124.3,308.3,"Launch",11.1);legendText(p1,124.3,323.3,"Last fix",11.1);

// ---------- WIND ----------
const dayX=d3.scaleLinear().domain([-0.923,19.423]).range([L.x0,L.x1]);
const windY=d3.scaleLinear().domain([0,100]).range([R2.y1,R2.y0]);
const bandRows=bandDays.map((d,i)=>[d,bandHigh[i],bandLow[i]]);
const p2=panel(L,R2,dayX,windY,{
  title:"Wind Speed vs. Time",xTicks:dateTicks,xLabels:dateLabels,yTicks:windTicks,rotate:true,
  yLabel:"Wind speed (m s^-1)",yLabelX:33,
  draw(g){
    g.append("path").datum(bandRows).attr("d",d3.area().x(d=>dayX(d[0])).y0(d=>windY(d[2])).y1(d=>windY(d[1]))).attr("fill",GREY).attr("fill-opacity",.35).attr("stroke",GREY).attr("stroke-opacity",.25).attr("stroke-width",1);
    g.selectAll("circle").data(windPoints).join("circle").attr("cx",d=>dayX(d[0])).attr("cy",d=>windY(d[1])).attr("r",2.1).attr("fill",NAVY);
    g.append("path").datum(d3.zip(dailyDays,dailyWind)).attr("d",d3.line().x(d=>dayX(d[0])).y(d=>windY(d[1]))).attr("fill","none").attr("stroke",RED).attr("stroke-width",1.7);
  }
});
legendBox(p2,621.7,425.7,161.6,49.6);
p2.append("rect").attr("x",625).attr("y",430).attr("width",24).attr("height",9).attr("fill",GREY).attr("fill-opacity",.35).attr("stroke",GREY).attr("stroke-opacity",.25);
p2.append("circle").attr("cx",636.5).attr("cy",450.3).attr("r",2).attr("fill",NAVY);
p2.append("line").attr("x1",624.5).attr("x2",649).attr("y1",465).attr("y2",465).attr("stroke",RED).attr("stroke-width",1.7);
legendText(p2,656.3,435.5,"±1σ propagated error",11.1);legendText(p2,656.3,450.5,"Wind speed",11.1);legendText(p2,656.3,466,"Daily mean",11.1);

// ---------- LATITUDE ----------
const dayX2=d3.scaleLinear().domain([-0.495,19.4]).range([R.x0,R.x1]);
const latY2=d3.scaleLinear().domain([-90,90]).range([R2.y1,R2.y0]);
panel(R,R2,dayX2,latY2,{
  title:"Latitude vs. Time",xTicks:dateTicks,xLabels:dateLabels,yTicks:latTicks,yLabels:latLabels,rotate:true,
  yLabel:"Latitude (deg)",yLabelX:813,
  draw(g){g.selectAll("circle").data(latPoints).join("circle").attr("cx",d=>dayX2(d[0])).attr("cy",d=>latY2(d[1])).attr("r",2.3).attr("fill","#000");}
});

// ---------- ALTITUDE ----------
const altY=d3.scaleLinear().domain([11743,15167]).range([R3.y1,R3.y0]);
panel(L,R3,dayX,altY,{
  title:"Balloon Altitude vs. Time",xTicks:dateTicks,xLabels:dateLabels,yTicks:altTicks,rotate:true,
  yLabel:"Altitude (m AMSL)",yLabelX:21,xLabel:"UTC date",xLabelY:1176,
  draw(g){
    g.selectAll("circle").data(altPoints).join("circle").attr("cx",d=>dayX(d[0])).attr("cy",d=>altY(d[1])).attr("r",2.2).attr("fill",GREY);
    g.append("path").datum(d3.zip(dailyDays,dailyAlt)).attr("d",d3.line().x(d=>dayX(d[0])).y(d=>altY(d[1]))).attr("fill","none").attr("stroke",RED).attr("stroke-width",1.7);
  }
});

// ---------- HISTOGRAM ----------
const windX=d3.scaleLinear().domain([-100,100]).range([R.x0,R.x1]);
const countY=d3.scaleLinear().domain([0,128.1]).range([R3.y1,R3.y0]);
const binW=5;
function bars(g,counts,col){
  g.append("g").selectAll("rect").data(binEdges.map((e,i)=>[e,counts[i]])).join("rect")
   .attr("x",d=>windX(d[0])).attr("width",d=>windX(d[0]+binW)-windX(d[0])).attr("y",d=>countY(d[1])).attr("height",d=>countY(0)-countY(d[1]))
   .attr("fill",col).attr("fill-opacity",.65).attr("stroke","#000").attr("stroke-opacity",.65).attr("stroke-width",1.1);
}
const p6=panel(R,R3,windX,countY,{
  title:"U and V Wind Components",xTicks:histXTicks,xLabels:histXLabels,yTicks:histYTicks,
  yLabel:"Frequency",yLabelX:815.5,xLabel:"Wind speed (m s^-1)",xLabelY:1159,
  draw(g){bars(g,uCounts,"#1f77b4");bars(g,vCounts,"#ff7f0e");}
});
legendBox(p6,1442.7,814.3,119,34);
p6.append("rect").attr("x",1446).attr("y",819.3).attr("width",22.7).attr("height",7.5).attr("fill","#1f77b4").attr("fill-opacity",.65).attr("stroke","#000").attr("stroke-opacity",.65).attr("stroke-width",1.1);
p6.append("rect").attr("x",1446).attr("y",834.5).attr("width",22.7).attr("height",7.5).attr("fill","#ff7f0e").attr("fill-opacity",.65).attr("stroke","#000").attr("stroke-opacity",.65).attr("stroke-width",1.1);
legendText(p6,1477.3,824,"U (zonal)",10.9);legendText(p6,1477.3,839,"V (meridional)",10.9);

// ---------- INFO ----------
const info=svg.append("g");
info.selectAll("text").data(infoLines).join("text").attr("x",d=>d[4]).attr("y",d=>d[1]).attr("text-anchor","middle").attr("dominant-baseline","central").attr("xml:space","preserve").style("white-space","pre").style("font-size",d=>d[2]+"px").attr("fill",d=>d[3]).style("fill",d=>d[3]).text(d=>d[0]);
</script></body></html>
